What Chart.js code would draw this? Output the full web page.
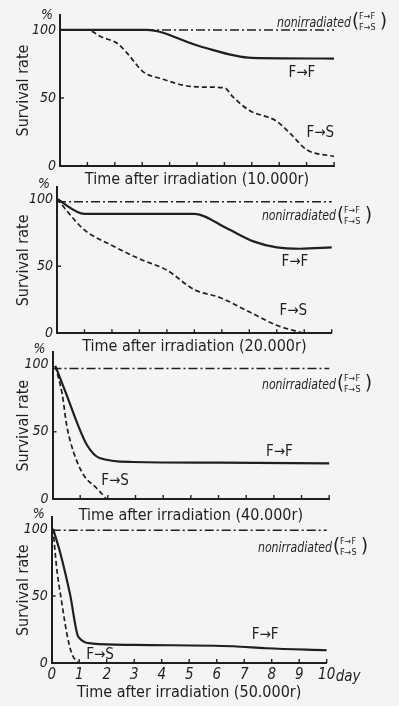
<!DOCTYPE html>
<html lang="en">
<head>
<meta charset="UTF-8">
<title>Survival rate after irradiation</title>
<script src="https://cdn.jsdelivr.net/npm/chart.js@4.4.1"></script>
<style>
  html, body { margin:0; padding:0; background:#f4f4f2; }
  #wrap { position:relative; width:399px; height:706px; overflow:hidden; }
  #wrap canvas { position:absolute; left:0; }
</style>
</head>
<body>
<div id="wrap">
  <canvas id="c1"></canvas>
  <canvas id="c2"></canvas>
  <canvas id="c3"></canvas>
  <canvas id="c4"></canvas>
</div>

<script>
// values: days after irradiation -> survival rate (%)
var dayTicks = [0,1,2,3,4,5,6,7,8,9,10];
var rateTicks = [0,50,100];
var doses = ['10.000r','20.000r','40.000r','50.000r'];

// 10.000r
var ctrl10Days = [0,10];          var ctrl10 = [100,100];
var ff10Days = [0,3.15,5.1,7,10]; var ff10 = [100,100,88,79.5,79];
var fs10Days = [0,1,1.5,2.1,2.45,3.05,3.65,4.6,5.3,6,6.3,6.9,7.9,8.4,9,10];
var fs10     = [100,100,95,90,83,69,64.5,59,58,57.5,51,41,33,24,12,7];

// 20.000r
var ctrl20Days = [0,10];          var ctrl20 = [98,98];
var ff20Days = [0,1,5,6.2,7.15,8,8.85,10];
var ff20     = [100,89,89,78,68.5,64,63,64];
var fs20Days = [0,1,1.95,3,4,5,5.95,6.9,8,9];
var fs20     = [100,77,66,55.5,47,32.5,26.5,17,6,0];

// 40.000r
var ctrl40Days = [0,10];          var ctrl40 = [97,97];
var ff40Days = [0.1,0.5,0.9,1.25,1.7,2.9,6,10];
var ff40     = [99,78,56,40,30.5,27.5,27,26.5];
var fs40Days = [0.1,0.35,0.52,0.76,1.12,1.6,1.95];
var fs40     = [99,78,54,35,18,8,0];

// 50.000r
var ctrl50Days = [0,10];          var ctrl50 = [99,99];
var ff50Days = [0.05,0.3,0.67,0.97,1.5,3,6.6,7.8,10];
var ff50     = [100,83,51,19.5,14.5,13.5,12.5,11,9.5];
var fs50Days = [0.05,0.18,0.36,0.55,0.73,0.97];
var fs50     = [100,71,46,22,7,0];

var INK = '#1f1f1f';
var NARROW = '"DejaVu Sans Condensed", sans-serif';

function pts(xs, ys){
  var out = [];
  for (var i=0;i<xs.length;i++) out.push({x:xs[i], y:ys[i]});
  return out;
}

function drawNonirr(ctx, x, y){
  ctx.save();
  ctx.fillStyle = INK;
  ctx.textBaseline = 'middle';
  ctx.font = 'italic 14px ' + NARROW;
  var w = ctx.measureText('nonirradiated').width;
  ctx.translate(x, y);
  ctx.scale(74/w, 1);
  ctx.fillText('nonirradiated', 0, 1);
  ctx.restore();
  ctx.save();
  ctx.fillStyle = INK;
  ctx.textBaseline = 'middle';
  ctx.font = '20px ' + NARROW;
  ctx.fillText('(', x+75, y);
  ctx.font = '9px ' + NARROW;
  ctx.fillText('F\u2192F', x+82, y-5);
  ctx.fillText('F\u2192S', x+82, y+6);
  ctx.font = '20px ' + NARROW;
  ctx.fillText(')', x+103, y);
  ctx.restore();
}

function makePanel(p){
  var cv = document.getElementById(p.id);
  cv.width = 399; cv.height = p.height;
  cv.style.top = p.top + 'px';

  var textPlugin = {
    id: 'panelText',
    afterDraw: function(chart){
      var ctx = chart.ctx, xs = chart.scales.x, ys = chart.scales.y;
      var bottom = ys.getPixelForValue(0);
      // small inward tick marks on the time axis
      ctx.save();
      ctx.strokeStyle = INK; ctx.lineWidth = 1.4;
      for (var i=1;i<dayTicks.length;i++){
        var px = xs.getPixelForValue(dayTicks[i]);
        ctx.beginPath(); ctx.moveTo(px, bottom); ctx.lineTo(px, bottom-4); ctx.stroke();
      }
      var y50 = ys.getPixelForValue(50);
      ctx.beginPath(); ctx.moveTo(xs.left, y50); ctx.lineTo(xs.left+4, y50); ctx.stroke();
      ctx.restore();

      ctx.save();
      ctx.fillStyle = INK;
      ctx.textBaseline = 'middle';
      ctx.textAlign = 'center';
      ctx.font = 'italic 14px ' + NARROW;
      ctx.fillText('%', xs.left - 13, ys.getPixelForValue(100) - 15);
      ctx.font = '15px ' + NARROW;
      p.labels.forEach(function(l){
        ctx.fillText(l.text, xs.getPixelForValue(l.x), ys.getPixelForValue(l.y));
      });
      if (p.day){
        ctx.textAlign = 'left';
        ctx.font = 'italic 15px ' + NARROW;
        ctx.fillText('day', xs.getPixelForValue(10) + 9, bottom + 14);
      }
      ctx.restore();
      drawNonirr(ctx, xs.getPixelForValue(p.ctrlText.x), ys.getPixelForValue(p.ctrlText.y));
    }
  };

  var xTitleSize = 16, xTitleLH = xTitleSize*1.2;
  var yTitleSize = 16, yTitleLH = yTitleSize*1.2;

  new Chart(cv, {
    type: 'line',
    data: {
      datasets: [
        { label:'nonirradiated', data:pts(p.ctrl[0], p.ctrl[1]), borderColor:INK,
          borderWidth:1.5, borderDash:[9,3,2,3], pointRadius:0, clip:false },
        { label:'F\u2192F', data:pts(p.ff[0], p.ff[1]), borderColor:INK,
          borderWidth:2.2, pointRadius:0, cubicInterpolationMode:'monotone', clip:false },
        { label:'F\u2192S', data:pts(p.fs[0], p.fs[1]), borderColor:INK,
          borderWidth:1.7, borderDash:[5,3], pointRadius:0, cubicInterpolationMode:'monotone', clip:false }
      ]
    },
    options: {
      responsive: false,
      animation: false,
      devicePixelRatio: 1,
      layout: { padding: { left:0, top:p.areaTop - p.top, right:399 - p.right, bottom:0 } },
      plugins: { legend:{display:false}, tooltip:{enabled:false} },
      scales: {
        x: {
          type:'linear', min:0, max:10,
          grid:{ display:false, drawTicks:false },
          border:{ display:true, color:INK, width:2 },
          afterBuildTicks: function(s){ s.ticks = dayTicks.map(function(v){ return {value:v}; }); },
          afterFit: function(s){ s.height = p.top + p.height - p.areaBottom; },
          ticks:{ display:p.day, padding:3, color:INK, font:{ family:NARROW, size:15, style:'italic' } },
          title:{ display:true, text:'Time after irradiation (' + p.dose + ')', color:INK,
                  font:{ family:NARROW, size:xTitleSize },
                  padding:{ top:0, bottom: p.top + p.height - p.titleY - xTitleLH/2 } }
        },
        y: {
          min:0, max:p.yMax,
          grid:{ display:false, drawTicks:false },
          border:{ display:true, color:INK, width:2 },
          afterBuildTicks: function(s){ s.ticks = rateTicks.map(function(v){ return {value:v}; }); },
          afterFit: function(s){ s.width = p.left; },
          ticks:{ padding:4, color:INK, font:{ family:NARROW, size:14, style:'italic' } },
          title:{ display:true, text:'Survival rate', color:INK,
                  font:{ family:NARROW, size:yTitleSize },
                  padding:{ top: 24 - yTitleLH/2, bottom:0 } }
        }
      }
    },
    plugins: [textPlugin]
  });
}

makePanel({ id:'c1', top:0, height:190, left:60, right:334, areaTop:15, areaBottom:166, yMax:111,
  titleY:180, dose:doses[0], day:false,
  ctrl:[ctrl10Days, ctrl10], ff:[ff10Days, ff10], fs:[fs10Days, fs10],
  ctrlText:{x:7.92, y:105.9},
  labels:[ {text:'F\u2192F', x:8.83, y:68.4}, {text:'F\u2192S', x:9.5, y:24} ] });

makePanel({ id:'c2', top:175, height:180, left:57, right:331.7, areaTop:183, areaBottom:333.3, yMax:108.7,
  titleY:347, dose:doses[1], day:false,
  ctrl:[ctrl20Days, ctrl20], ff:[ff20Days, ff20], fs:[fs20Days, fs20],
  ctrlText:{x:7.46, y:87.7},
  labels:[ {text:'F\u2192F', x:8.66, y:53}, {text:'F\u2192S', x:8.6, y:16.8} ] });

makePanel({ id:'c3', top:340, height:185, left:52.5, right:329.2, areaTop:348, areaBottom:499, yMax:109,
  titleY:516, dose:doses[2], day:false,
  ctrl:[ctrl40Days, ctrl40], ff:[ff40Days, ff40], fs:[fs40Days, fs40],
  ctrlText:{x:7.57, y:85.5},
  labels:[ {text:'F\u2192F', x:8.2, y:35}, {text:'F\u2192S', x:2.26, y:13.2} ] });

makePanel({ id:'c4', top:505, height:201, left:51.7, right:326.7, areaTop:515, areaBottom:663, yMax:108.6,
  titleY:693, dose:doses[3], day:true,
  ctrl:[ctrl50Days, ctrl50], ff:[ff50Days, ff50], fs:[fs50Days, fs50],
  ctrlText:{x:7.5, y:86.6},
  labels:[ {text:'F\u2192F', x:7.76, y:20.5}, {text:'F\u2192S', x:1.76, y:5.9} ] });
</script>
</body>
</html>
